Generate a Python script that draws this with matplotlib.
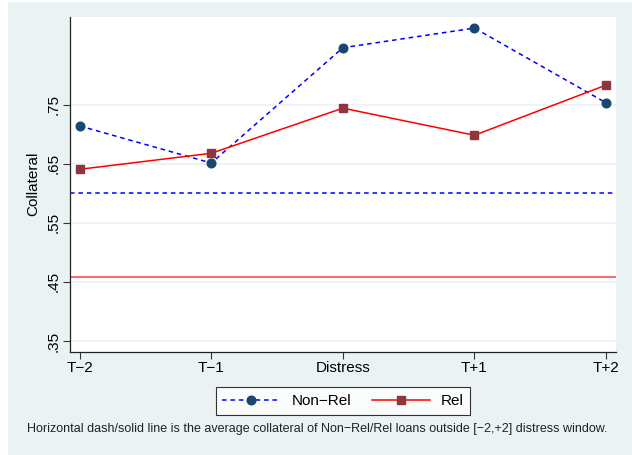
import matplotlib
matplotlib.use("Agg")
import matplotlib.pyplot as plt
from matplotlib.patches import Rectangle
from matplotlib.lines import Line2D

categories = ["T\u22122", "T\u22121", "Distress", "T+1", "T+2"]
non_rel = [0.7137, 0.651, 0.846, 0.8793, 0.7529]
rel = [0.6404, 0.6675, 0.7438, 0.698, 0.7828]
non_rel_avg = 0.6003
rel_avg = 0.4575
yticks = [0.35, 0.45, 0.55, 0.65, 0.75]
yticklabels = [".35", ".45", ".55", ".65", ".75"]

plt.rcParams['font.family'] = ['Liberation Sans', 'DejaVu Sans']

W, H = 632, 455
fig = plt.figure(figsize=(W / 100, H / 100), dpi=100)
fig.patch.set_facecolor("white")
bg = "#eaf2f3"
fig.patches.append(Rectangle((8 / W, 0), 1 - 8 / W, 1 - 2 / H, transform=fig.transFigure,
                             facecolor=bg, edgecolor="none", zorder=-10))

ax = fig.add_axes([70 / W, 1 - 351.7 / H, (616 - 70) / W, (351.7 - 16.7) / H])
ax.set_facecolor("white")
x = list(range(len(categories)))

for yt in yticks:
    ax.axhline(yt, color=bg, lw=1.2, zorder=0)

ax.axhline(non_rel_avg, color="#0000ff", lw=1.1, ls=(0, (3, 2.5)), zorder=1)
ax.axhline(rel_avg, color="#ff4040", lw=1.1, zorder=1)

ax.plot(x, non_rel, color="#0000ff", lw=1.1, ls=(0, (3, 2.5)), zorder=2)
ax.plot(x, non_rel, ls="none", marker="o", ms=6.2, mfc="#1a476f", mec="#1a476f", zorder=3)
ax.plot(x, rel, color="#ff0000", lw=1.1, zorder=2)
ax.plot(x, rel, ls="none", marker="s", ms=6, mfc="#90353b", mec="#90353b", zorder=3)

ax.set_xlim(-0.074, 4.076)
ax.set_ylim(0.3319, 0.8985)
ax.set_xticks(x)
ax.set_xticklabels(categories, fontsize=11)
ax.set_yticks(yticks)
ax.set_yticklabels(yticklabels, fontsize=11, rotation=90, va="center")
ax.tick_params(axis="both", direction="out", length=5, width=0.8, color="#333333", pad=2)
for s in ["top", "right"]:
    ax.spines[s].set_visible(False)
for s in ["left", "bottom"]:
    ax.spines[s].set_color("#222222")
    ax.spines[s].set_linewidth(0.9)
ax.set_ylabel("Collateral", fontsize=11, labelpad=4)

h1 = Line2D([], [], color="#0000ff", lw=1.1, ls=(0, (3, 2.5)), marker="o", ms=6.2,
            mfc="#1a476f", mec="#1a476f")
h2 = Line2D([], [], color="#ff0000", lw=1.1, marker="s", ms=6, mfc="#90353b", mec="#90353b")
leg = fig.legend([h1, h2], ["Non\u2212Rel", "Rel"], loc="center",
                 bbox_to_anchor=((214 + 472) / 2 / W, 1 - 401.3 / H), ncol=2,
                 fontsize=11, frameon=True, fancybox=False, handlelength=3.8,
                 columnspacing=1.35, handletextpad=0.72, borderpad=0.45)
leg.get_frame().set_edgecolor("black")
leg.get_frame().set_linewidth(0.8)
leg.get_frame().set_facecolor("white")

fig.text(27 / W, 1 - 429 / H,
         "Horizontal dash/solid line is the average collateral of Non\u2212Rel/Rel loans outside [\u22122,+2] distress window.",
         fontsize=9.0, ha="left", va="center", color="#222222")

fig.savefig("out.png", dpi=100, facecolor=fig.get_facecolor())
